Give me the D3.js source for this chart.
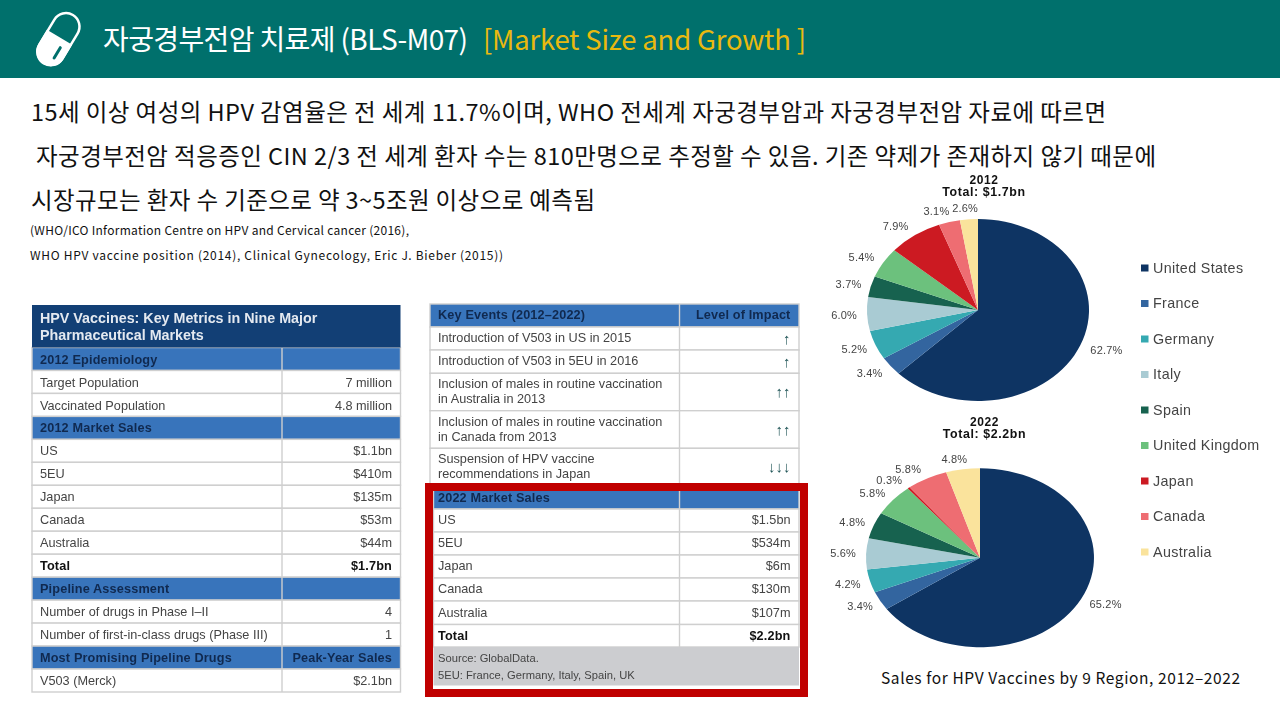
<!DOCTYPE html>
<html>
<head>
<meta charset="utf-8">
<script src="https://cdn.jsdelivr.net/npm/d3@7"></script>
<style>
	html, body { margin: 0; padding: 0; background: #fff; }
	svg { display: block; }
	text { font-family: "Liberation Sans", Arial, sans-serif; }
	.kr { font-family: "Noto Sans CJK KR", sans-serif; }
</style>
</head>
<body>
<script>
const regions = ["United States", "France", "Germany", "Italy", "Spain", "United Kingdom", "Japan", "Canada", "Australia"];
const share2012 = [62.7, 3.4, 5.2, 6.0, 3.7, 5.4, 7.9, 3.1, 2.6];
const share2022 = [65.2, 3.4, 4.2, 5.6, 4.8, 5.8, 0.3, 5.8, 4.8];
const regionColors = ["#0e3463", "#33659f", "#35a9b1", "#a9cbd3", "#17624f", "#6cc17d", "#cc1a22", "#ee6d72", "#fae39c"];

const metricLabels = ["2012 Epidemiology", "Target Population", "Vaccinated Population", "2012 Market Sales", "US", "5EU", "Japan", "Canada", "Australia", "Total", "Pipeline Assessment", "Number of drugs in Phase I\u2013II", "Number of first-in-class drugs (Phase III)", "Most Promising Pipeline Drugs", "V503 (Merck)"];
const metricValues = ["", "7 million", "4.8 million", "", "$1.1bn", "$410m", "$135m", "$53m", "$44m", "$1.7bn", "", "4", "1", "Peak-Year Sales", "$2.1bn"];
const metricKinds = ["head", "row", "row", "head", "row", "row", "row", "row", "row", "total", "head", "row", "row", "head", "row"];

const eventLabels = ["Key Events (2012\u20132022)", "Introduction of V503 in US in 2015", "Introduction of V503 in 5EU in 2016", "Inclusion of males in routine vaccination|in Australia in 2013", "Inclusion of males in routine vaccination|in Canada from 2013", "Suspension of HPV vaccine|recommendations in Japan"];
const eventValues = ["Level of Impact", "\u2191", "\u2191", "\u2191\u2191", "\u2191\u2191", "\u2193\u2193\u2193"];
const eventKinds = ["head", "arrow", "arrow", "arrow", "arrow", "arrow"];

const salesLabels = ["2022 Market Sales", "US", "5EU", "Japan", "Canada", "Australia", "Total"];
const salesValues = ["", "$1.5bn", "$534m", "$6m", "$130m", "$107m", "$2.2bn"];
const salesKinds = ["head", "row", "row", "row", "row", "row", "total"];

const svg = d3.select("body").append("svg").attr("width", 1280).attr("height", 720);

drawHeader();
drawBody();

const softLayer = svg.append("g").style("filter", "blur(0.35px)");

drawTable(softLayer, metricLabels, metricValues, metricKinds, {left: 32, mid: 282, right: 400.5, pad: 8, nudge: 4.6, edges: d3.range(16).map(d3.scaleLinear().domain([0, 15]).range([347.5, 692]))});
softLayer.append("rect").attr("x", 32).attr("y", 305).attr("width", 368.5).attr("height", 42.5).attr("fill", "#123f75");
softLayer.append("text").attr("x", 40).attr("y", 323).attr("fill", "#e4e9f0").attr("font-size", 14.3).attr("font-weight", "bold").text("HPV Vaccines: Key Metrics in Nine Major");
softLayer.append("text").attr("x", 40).attr("y", 339.5).attr("fill", "#e4e9f0").attr("font-size", 14.3).attr("font-weight", "bold").text("Pharmaceutical Markets");

drawTable(softLayer, eventLabels, eventValues, eventKinds, {left: 430, mid: 679.5, right: 799, pad: 8, nudge: 3.8, edges: [304, 327, 350, 373.3, 410.7, 448.3, 486]});

// white backing goes under the 2022 table, the red frame on top hides the table's first pixels
softLayer.append("rect").attr("x", 425).attr("y", 483).attr("width", 383).attr("height", 214).attr("fill", "#fff");
drawTable(softLayer, salesLabels, salesValues, salesKinds, {left: 433.5, mid: 679.5, right: 799, pad: 4.5, nudge: 3.8, edges: [488, 509, 532, 555, 578, 601, 624.5, 647]});
softLayer.append("rect").attr("x", 429).attr("y", 487).attr("width", 375).attr("height", 206).attr("fill", "none").attr("stroke", "#c00000").attr("stroke-width", 8);
softLayer.append("rect").attr("x", 433.5).attr("y", 647).attr("width", 365.5).attr("height", 38.5).attr("fill", "#cccdd0");
softLayer.append("text").attr("x", 438).attr("y", 662).attr("fill", "#444").attr("font-size", 11.2).text("Source: GlobalData.");
softLayer.append("text").attr("x", 438).attr("y", 679).attr("fill", "#444").attr("font-size", 11.2).text("5EU: France, Germany, Italy, Spain, UK");

drawPie(softLayer, share2012, {cx: 978, cy: 310, rx: 111, ry: 91, lx: 134, ly: 102, nudge: [5, -3, 0, 0, 0, -2, -6, -7, -2]});
drawPie(softLayer, share2022, {cx: 980, cy: 557.7, rx: 114, ry: 89.5, lx: 137, ly: 100, nudge: [4, 0, 0, 0, 0, -3, -5, -8, -5]});

drawPieTitle(softLayer, 984, 184, "2012", "Total: $1.7bn");
drawPieTitle(softLayer, 984.5, 426, "2022", "Total: $2.2bn");
drawLegend(softLayer);

svg.append("text").attr("class", "kr").attr("x", 881).attr("y", 684).attr("fill", "#111").attr("font-size", 15.5)
	.attr("textLength", 359).text("Sales for HPV Vaccines by 9 Region, 2012\u20132022");


function drawHeader() {
	svg.append("rect").attr("width", 1280).attr("height", 78).attr("fill", "#00706c");

	// pill icon, drawn upright and then tilted
	const pill = svg.append("g").attr("transform", "translate(58.5,39) rotate(31)");
	pill.append("rect").attr("x", -13.5).attr("y", -28).attr("width", 27).attr("height", 56).attr("rx", 13.5)
		.attr("fill", "none").attr("stroke", "#fff").attr("stroke-width", 2.5);
	pill.append("path").attr("d", "M-14.7,-2H14.7V15A14.7,14.7 0 0 1 -14.7,15Z").attr("fill", "#fff");
	pill.append("rect").attr("x", 4.5).attr("y", 5).attr("width", 3).attr("height", 15).attr("rx", 1.5).attr("fill", "#00706c");

	svg.append("text").attr("class", "kr").attr("x", 103).attr("y", 50).attr("fill", "#fff").attr("font-size", 28)
		.attr("textLength", 365).text("\uC790\uAD81\uACBD\uBD80\uC804\uC554 \uCE58\uB8CC\uC81C (BLS-M07)");
	svg.append("text").attr("class", "kr").attr("x", 483).attr("y", 50).attr("fill", "#e9b90f").attr("font-size", 27.5)
		.attr("textLength", 323).text("[Market Size and Growth ]");
}

function drawBody() {
	const lines = [
		{x: 31, y: 121, w: 1075, size: 23.5, t: "15\uC138 \uC774\uC0C1 \uC5EC\uC131\uC758 HPV \uAC10\uC5FC\uC728\uC740 \uC804 \uC138\uACC4 11.7%\uC774\uBA70, WHO \uC804\uC138\uACC4 \uC790\uAD81\uACBD\uBD80\uC554\uACFC \uC790\uAD81\uACBD\uBD80\uC804\uC554 \uC790\uB8CC\uC5D0 \uB530\uB974\uBA74"},
		{x: 36, y: 165, w: 1120, size: 23.5, t: "\uC790\uAD81\uACBD\uBD80\uC804\uC554 \uC801\uC751\uC99D\uC778 CIN 2/3 \uC804 \uC138\uACC4 \uD658\uC790 \uC218\uB294 810\uB9CC\uBA85\uC73C\uB85C \uCD94\uC815\uD560 \uC218 \uC788\uC74C. \uAE30\uC874 \uC57D\uC81C\uAC00 \uC874\uC7AC\uD558\uC9C0 \uC54A\uAE30 \uB54C\uBB38\uC5D0"},
		{x: 31, y: 209, w: 564, size: 23.5, t: "\uC2DC\uC7A5\uADDC\uBAA8\uB294 \uD658\uC790 \uC218 \uAE30\uC900\uC73C\uB85C \uC57D 3~5\uC870\uC6D0 \uC774\uC0C1\uC73C\uB85C \uC608\uCE21\uB428"},
		{x: 30, y: 235, w: 379, size: 12, t: "(WHO/ICO Information Centre on HPV and Cervical cancer (2016),"},
		{x: 30, y: 260, w: 473, size: 12, t: "WHO HPV vaccine position (2014), Clinical Gynecology, Eric J. Bieber (2015))"}
	];

	svg.selectAll("text.body").data(lines).enter().append("text")
		.attr("class", "kr body")
		.attr("x", function(d) { return d.x; })
		.attr("y", function(d) { return d.y; })
		.attr("font-size", function(d) { return d.size; })
		.attr("textLength", function(d) { return d.w; })
		.attr("fill", "#111")
		.text(function(d) { return d.t; });
}

/**
 * draw a two column table, header rows blue and body rows white.
 *
 * @param layout, left, mid and right x of the columns, the text padding and baseline nudge, and the y edges of the rows
 */
function drawTable(parent, labels, values, kinds, layout) {
	const g = parent.append("g");
	const edges = layout.edges;

	labels.forEach(function(label, i) {
		const isHead = kinds[i] === "head";
		const isBold = isHead || kinds[i] === "total";
		const top = edges[i], bottom = edges[i + 1];
		const fill = isHead ? "#3874bb" : "#fff";
		const textColor = isHead ? "#10294f" : (isBold ? "#111" : "#444");

		g.append("rect").attr("x", layout.left).attr("y", top).attr("width", layout.right - layout.left).attr("height", bottom - top)
			.attr("fill", fill).attr("stroke", "#cfcfcf").attr("stroke-width", 1.4);
		g.append("line").attr("x1", layout.mid).attr("x2", layout.mid).attr("y1", top).attr("y2", bottom)
			.attr("stroke", "#cfcfcf").attr("stroke-width", 1.4);

		const parts = label.split("|");
		const middle = (top + bottom) / 2;
		parts.forEach(function(part, j) {
			g.append("text").attr("x", layout.left + layout.pad)
				.attr("y", middle + layout.nudge + (j - (parts.length - 1) / 2) * 15)
				.attr("fill", textColor).attr("font-size", 12.7).attr("font-weight", isBold ? "bold" : "normal")
				.attr("letter-spacing", isBold ? 0.15 : 0)
				.text(part);
		});

		const isArrow = kinds[i] === "arrow";
		g.append("text").attr("x", layout.right - 8.5).attr("y", middle + layout.nudge + (isArrow ? 1.5 : 0)).attr("text-anchor", "end")
			.attr("fill", isArrow ? "#24585a" : textColor).attr("font-size", isArrow ? 15 : 12.7)
			.attr("font-weight", isBold || isArrow ? "bold" : "normal")
			.attr("letter-spacing", isBold ? 0.15 : 0)
			.text(values[i]);
	});
}

/**
 * draw an elliptical pie, starting at twelve o'clock and running clockwise.
 */
function drawPie(parent, values, o) {
	const pie = d3.pie().sort(null);
	const arc = d3.arc().innerRadius(0).outerRadius(1);
	const slices = pie(values);

	const g = parent.append("g").attr("transform", "translate(" + o.cx + "," + o.cy + ")");

	g.append("g").attr("transform", "scale(" + o.rx + "," + o.ry + ")")
		.selectAll("path").data(slices).enter().append("path")
		.attr("d", arc)
		.attr("fill", function(d, i) { return regionColors[i]; });

	g.selectAll("text").data(slices).enter().append("text")
		.attr("x", function(d, i) { return Math.sin((d.startAngle + d.endAngle) / 2) * o.lx + o.nudge[i]; })
		.attr("y", function(d) { return -Math.cos((d.startAngle + d.endAngle) / 2) * o.ly + 4; })
		.attr("text-anchor", "middle")
		.attr("fill", "#444")
		.attr("font-size", 11)
		.attr("letter-spacing", 0.2)
		.text(function(d) { return d.value.toFixed(1) + "%"; });
}

function drawPieTitle(parent, x, y, year, total) {
	parent.append("text").attr("x", x).attr("y", y).attr("text-anchor", "middle").attr("fill", "#111")
		.attr("font-size", 12).attr("font-weight", "bold").attr("letter-spacing", 0.6).text(year);
	parent.append("text").attr("x", x).attr("y", y + 12).attr("text-anchor", "middle").attr("fill", "#111")
		.attr("font-size", 12.4).attr("font-weight", "bold").attr("letter-spacing", 0.6).text(total);
}

function drawLegend(parent) {
	const yScale = d3.scalePoint().domain(regions).range([268, 552]);
	const items = parent.selectAll("g.legend").data(regions).enter().append("g")
		.attr("class", "legend")
		.attr("transform", function(d) { return "translate(1141," + yScale(d) + ")"; });

	items.append("rect").attr("x", 0).attr("y", -3.5).attr("width", 7.5).attr("height", 7)
		.attr("fill", function(d, i) { return regionColors[i]; });
	items.append("text").attr("x", 12).attr("y", 4.5).attr("fill", "#444").attr("font-size", 14.3).attr("letter-spacing", 0.35)
		.text(function(d) { return d; });
}
</script>
</body>
</html>
